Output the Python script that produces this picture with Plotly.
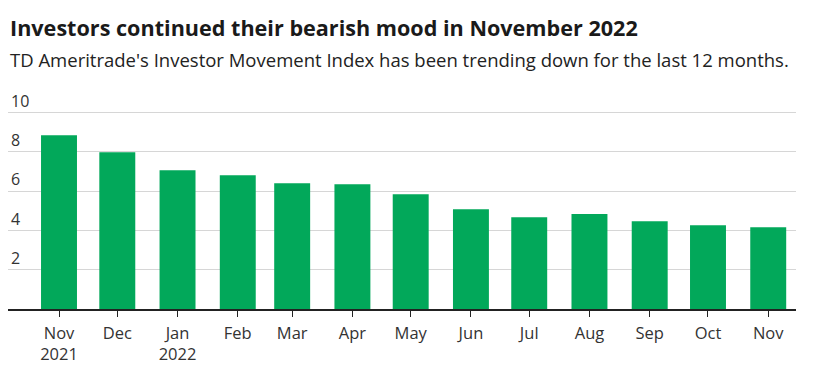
import plotly.graph_objects as go

months = ["2021-11-01", "2021-12-01", "2022-01-01", "2022-02-01", "2022-03-01", "2022-04-01",
          "2022-05-01", "2022-06-01", "2022-07-01", "2022-08-01", "2022-09-01", "2022-10-01", "2022-11-01"]
tick_labels = ["Nov<br>2021", "Dec", "Jan<br>2022", "Feb", "Mar", "Apr", "May", "Jun",
               "Jul", "Aug", "Sep", "Oct", "Nov"]
imx_values = [8.84, 7.98, 7.06, 6.81, 6.40, 6.35, 5.84, 5.08, 4.67, 4.83, 4.47, 4.26, 4.16]
y_ticks = [2, 4, 6, 8, 10]

FONT = "Open Sans"
DAY_MS = 86400000

fig = go.Figure(go.Bar(
    x=months, y=imx_values,
    width=18.5 * DAY_MS,
    marker=dict(color="#02A85A", line=dict(width=0)),
    hoverinfo="x+y",
))

# plot area: bottom at y=309, ~19.65 px per unit
fig.update_layout(
    width=813, height=378,
    margin=dict(l=8, r=17, t=83, b=69, autoexpand=False),
    paper_bgcolor="white", plot_bgcolor="white",
    showlegend=False,
    font=dict(family=FONT, color="#333333"),
    xaxis=dict(
        type="date",
        range=["2021-10-05 18:00", "2022-11-15 07:00"],
        tickmode="array", tickvals=months, ticktext=tick_labels,
        ticks="outside", ticklen=6, tickwidth=1, tickcolor="#222222",
        ticklabelstandoff=2,
        showgrid=False, showline=True, linecolor="#222222", linewidth=2,
        tickfont=dict(size=16.5, color="#333333"),
        fixedrange=True,
    ),
    yaxis=dict(
        range=[0, 11.5],
        tickmode="array", tickvals=y_ticks,
        ticklabelposition="inside top",
        showgrid=True, gridcolor="#d6d6d6", gridwidth=1,
        zeroline=False, showline=False, ticks="",
        tickfont=dict(size=16, color="#333333"),
        fixedrange=True,
    ),
    annotations=[
        dict(text="<b>Investors continued their bearish mood in November 2022</b>",
             xref="paper", yref="paper", x=0, y=(309 - 27) / 226,
             xanchor="left", yanchor="middle", showarrow=False,
             font=dict(family=FONT, size=21.6, color="#1a1a1a")),
        dict(text="TD Ameritrade's Investor Movement Index has been trending down for the last 12 months.",
             xref="paper", yref="paper", x=0, y=(309 - 59) / 226,
             xanchor="left", yanchor="middle", showarrow=False,
             font=dict(family=FONT, size=18.5, color="#222222")),
    ],
)

fig.write_html("out.html", config={"displayModeBar": False},
               post_script="document.body.style.margin='0';")
